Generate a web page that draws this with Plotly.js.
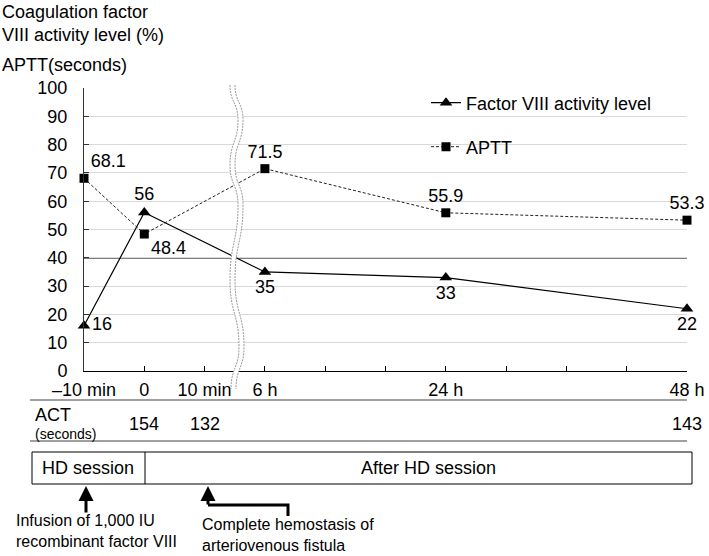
<!DOCTYPE html>
<html><head><meta charset="utf-8">
<script src="https://cdn.plot.ly/plotly-3.0.1.min.js"></script>
<style>html,body{margin:0;padding:0;background:#fff}#chart{width:709px;height:556px}</style>
</head><body><div id="chart"></div>
<script>
// ---- data ----
const axisTickText = ['\u201310 min', '0', '10 min', '6 h', '', '', '24 h', '', '', '', '48 h'];
const timeLabels = ['\u201310 min', '0', '6 h', '24 h', '48 h'];
const factorVIII = [16, 56, 35, 33, 22];
const aptt = [68.1, 48.4, 71.5, 55.9, 53.3];
const factorLabelPos = ['middle right', 'top center', 'bottom center', 'bottom center', 'bottom center'];
const apttLabelPos = ['top right', 'bottom right', 'top center', 'top center', 'top center'];
const actLabels = ['0', '10 min', '48 h'];
const actValues = [154, 132, 143];
const threshold = 40;

// ---- layout helpers (pixel -> paper) ----
const Wd = 709, Ht = 556, L = 84, Rt = 687, T = 88, B = 371;
const PW = Rt - L, PH = B - T;
const px = x => (x - L) / PW;
const py = y => (B - y) / PH;
const xPos = lab => axisTickText.indexOf(lab);
const FONT = 'Arial, "Liberation Sans", sans-serif';

const traces = [
  {
    x: timeLabels.map(xPos), y: factorVIII, name: 'Factor VIII activity level',
    mode: 'lines+markers+text', text: factorVIII.map(String), textposition: factorLabelPos,
    textfont: {size: 18, color: '#000', family: FONT},
    line: {color: '#000', width: 1.2},
    marker: {symbol: 'triangle-up', size: 11, color: '#000'},
    cliponaxis: false, legend: 'legend'
  },
  {
    x: timeLabels.map(xPos), y: aptt, name: 'APTT',
    mode: 'lines+markers+text', text: aptt.map(String), textposition: apttLabelPos,
    textfont: {size: 18, color: '#000', family: FONT},
    line: {color: '#222', width: 1, dash: '3px,2px'},
    marker: {symbol: 'square', size: 9, color: '#000'},
    cliponaxis: false, legend: 'legend2'
  }
];

// wavy axis break
const wave = [[230,85],[238,120],[230,165],[238,205],[230,280],[239,347],[231,389]];
function wavePath(off, reverse) {
  const pts = wave.map(p => [p[0] + off, p[1]]);
  if (reverse) pts.reverse();
  let d = `M${px(pts[0][0])},${py(pts[0][1])}`;
  for (let i = 1; i < pts.length; i++) {
    const m = (pts[i-1][1] + pts[i][1]) / 2;
    d += ` C${px(pts[i-1][0])},${py(m)} ${px(pts[i][0])},${py(m)} ${px(pts[i][0])},${py(pts[i][1])}`;
  }
  return d;
}
const fillPath = wavePath(0, false) + ' ' + wavePath(5, true).replace('M', 'L') + ' Z';

const shapes = [
  {type: 'line', xref: 'paper', yref: 'y', x0: 0, x1: 1, y0: threshold, y1: threshold,
   line: {color: '#000', width: 1.3}, layer: 'between'},
  {type: 'path', xref: 'paper', yref: 'paper', path: fillPath, fillcolor: '#fff', line: {width: 0}, layer: 'above'},
  {type: 'path', xref: 'paper', yref: 'paper', path: wavePath(0, false), line: {color: '#999', width: 1, dash: '2px,1px'}, layer: 'above'},
  {type: 'path', xref: 'paper', yref: 'paper', path: wavePath(5, false), line: {color: '#999', width: 1, dash: '2px,1px'}, layer: 'above'},
  // table rules
  {type: 'line', xref: 'paper', yref: 'paper', x0: px(30), x1: px(687), y0: py(400), y1: py(400), line: {color: '#808080', width: 1.5}},
  {type: 'line', xref: 'paper', yref: 'paper', x0: px(30), x1: px(687), y0: py(441), y1: py(441), line: {color: '#808080', width: 1.5}},
  // session box
  {type: 'rect', xref: 'paper', yref: 'paper', x0: px(32), x1: px(692), y0: py(452), y1: py(484), line: {color: '#000', width: 1}},
  {type: 'line', xref: 'paper', yref: 'paper', x0: px(145), x1: px(145), y0: py(452), y1: py(484), line: {color: '#000', width: 1}},
  // bent arrow shaft
  {type: 'path', xref: 'paper', yref: 'paper',
   path: `M${px(208)},${py(505)} L${px(288)},${py(505)} L${px(288)},${py(516)}`, line: {color: '#000', width: 3}}
];

const ann = (x, y, text, size, anchor) => ({xref: 'paper', yref: 'paper', x: px(x), y: py(y), text: text,
  showarrow: false, xanchor: anchor || 'left', yanchor: 'middle', align: 'left', font: {size: size, color: '#000', family: FONT}});

const annotations = [
  ann(0, 12, 'Coagulation factor', 18),
  ann(0, 35, 'VIII activity level (%)', 18),
  ann(0, 65, 'APTT(seconds)', 18),
  ann(33, 415, 'ACT', 18),
  ann(33, 434, '(seconds)', 14),
  ann(88, 468, 'HD session', 18, 'center'),
  ann(428, 468, 'After HD session', 18, 'center'),
  ann(14, 531, 'Infusion of 1,000 IU<br>recombinant factor VIII', 16),
  ann(200, 535, 'Complete hemostasis of<br>arteriovenous fistula', 16),
  {xref: 'paper', yref: 'paper', x: px(86), y: py(486), ax: 0, ay: 28, text: '', showarrow: true,
   arrowhead: 2, arrowsize: 1, arrowwidth: 3, arrowcolor: '#000'},
  {xref: 'paper', yref: 'paper', x: px(208), y: py(486), ax: 0, ay: 20, text: '', showarrow: true,
   arrowhead: 2, arrowsize: 1, arrowwidth: 3, arrowcolor: '#000'}
];
actLabels.forEach((lab, i) => {
  annotations.push({xref: 'x', yref: 'paper', x: xPos(lab), y: py(424), text: String(actValues[i]),
    showarrow: false, xanchor: 'center', yanchor: 'middle', font: {size: 18, color: '#000', family: FONT}});
});

const layout = {
  width: Wd, height: Ht,
  margin: {l: L, r: Wd - Rt, t: T, b: Ht - B},
  paper_bgcolor: '#fff', plot_bgcolor: '#fff',
  font: {family: FONT, size: 18, color: '#000'},
  xaxis: {
    range: [0, axisTickText.length - 1], tickvals: axisTickText.map((_, i) => i), ticktext: axisTickText,
    showgrid: false, zeroline: false, showline: true, linecolor: '#000', linewidth: 1,
    ticks: 'inside', ticklen: 5, tickcolor: '#000', tickfont: {size: 18}, ticklabelstandoff: 2
  },
  yaxis: {
    range: [0, 100], dtick: 10, showgrid: true, gridcolor: '#d9d9d9', gridwidth: 1,
    zeroline: false, showline: true, linecolor: '#333', linewidth: 1,
    ticks: 'inside', ticklen: 5, tickcolor: '#333', tickfont: {size: 18}, ticklabelstandoff: 12
  },
  showlegend: true,
  legend: {x: px(426), y: py(103), xanchor: 'left', yanchor: 'middle', bgcolor: 'rgba(0,0,0,0)', font: {size: 18}},
  legend2: {x: px(426), y: py(147), xanchor: 'left', yanchor: 'middle', bgcolor: 'rgba(0,0,0,0)', font: {size: 18}},
  shapes: shapes,
  annotations: annotations
};

Plotly.newPlot('chart', traces, layout, {displayModeBar: false, staticPlot: true});
</script></body></html>
